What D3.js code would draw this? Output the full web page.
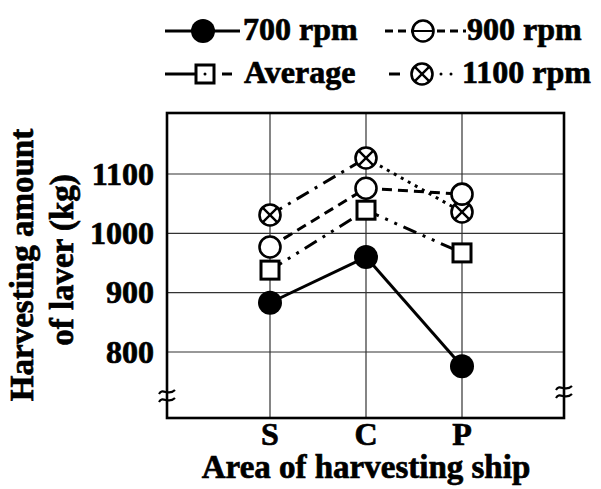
<!DOCTYPE html>
<html><head><meta charset="utf-8">
<script src="https://cdn.jsdelivr.net/npm/d3@7"></script>
<style>body{margin:0;background:#fff}svg{display:block}text{font-family:"Liberation Serif","Times New Roman",serif;font-weight:bold;fill:#000;stroke:#000;stroke-width:0.7px}</style>
</head><body><svg id="c" width="601" height="489"></svg>
<script>
const categories = ["S", "C", "P"];
const yTicks = [800, 900, 1000, 1100];
const rpm700 = [883, 960, 776];
const rpm900 = [977, 1076, 1066];
const average = [938, 1039, 967];
const rpm1100 = [1031, 1127, 1036];

const svg = d3.select("#c");
const x = d3.scaleLinear().domain([0, 2]).range([270, 462]);
const y = d3.scaleLinear().domain([800, 1100]).range([352, 174]);
const fx0 = 167, fx1 = 564, fy0 = 113, fy1 = 418;

// grid
const g = svg.append("g");
g.selectAll(".hg").data(yTicks).join("line")
  .attr("x1", fx0).attr("x2", fx1).attr("y1", d => y(d)).attr("y2", d => y(d))
  .attr("stroke", "#333").attr("stroke-width", 1.2);
g.selectAll(".vg").data(categories).join("line")
  .attr("x1", (d, i) => x(i)).attr("x2", (d, i) => x(i)).attr("y1", fy0).attr("y2", fy1)
  .attr("stroke", "#333").attr("stroke-width", 1.2);
// frame
g.append("rect").attr("x", fx0).attr("y", fy0).attr("width", fx1 - fx0).attr("height", fy1 - fy0)
  .attr("fill", "none").attr("stroke", "#000").attr("stroke-width", 2.6);

// break marks
function brk(cx, cy) {
  [-4, 4].forEach(o => {
    svg.append("path")
      .attr("d", `M${cx - 8},${cy + o + 2} C${cx - 4},${cy + o - 5} ${cx + 1},${cy + o + 5} ${cx + 8},${cy + o - 2}`)
      .attr("fill", "none").attr("stroke", "#000").attr("stroke-width", 2.2);
  });
}
brk(fx0, 396);
brk(fx1, 392);

// tick labels
svg.selectAll(".yt").data(yTicks).join("text")
  .attr("x", 154).attr("y", d => y(d)).attr("dy", "0.33em").attr("text-anchor", "end")
  .attr("font-size", 32).text(d => d);
svg.selectAll(".xt").data(categories).join("text")
  .attr("x", (d, i) => x(i)).attr("y", 445).attr("text-anchor", "middle")
  .attr("font-size", 32).text(d => d);

// axis titles
svg.append("text").attr("x", 366).attr("y", 478).attr("text-anchor", "middle")
  .attr("font-size", 33).text("Area of harvesting ship");
svg.append("text").attr("transform", "translate(33,265) rotate(-90)").attr("text-anchor", "middle")
  .attr("font-size", 33).text("Harvesting amount");
svg.append("text").attr("transform", "translate(73,260) rotate(-90)").attr("text-anchor", "middle")
  .attr("font-size", 33).text("of laver (kg)");

const line = d3.line().x(d => x(d.i)).y(d => y(d.v));
function seg(vals, i0, dash) {
  svg.append("path").datum([{i: i0, v: vals[i0]}, {i: i0 + 1, v: vals[i0 + 1]}])
    .attr("d", line).attr("fill", "none").attr("stroke", "#000").attr("stroke-width", 3)
    .attr("stroke-dasharray", dash);
}
// lines
[0, 1].forEach(i => seg(rpm700, i, null));
[0, 1].forEach(i => seg(rpm900, i, "10,6"));
[0, 1].forEach(i => seg(average, i, "14,7,3,7,3,7"));
seg(rpm1100, 0, "14,7,3,7");
seg(rpm1100, 1, "3,5");

// markers
function filled(sel, cx, cy) { sel.append("circle").attr("cx", cx).attr("cy", cy).attr("r", 12).attr("fill", "#000"); }
function open(sel, cx, cy, bar) {
  sel.append("circle").attr("cx", cx).attr("cy", cy).attr("r", 10.5).attr("fill", "#fff").attr("stroke", "#000").attr("stroke-width", 2.6);
  if (bar) sel.append("line").attr("x1", cx - 10).attr("x2", cx + 10).attr("y1", cy).attr("y2", cy).attr("stroke", "#000").attr("stroke-width", 2);
}
function square(sel, cx, cy, dot) {
  sel.append("rect").attr("x", cx - 9).attr("y", cy - 9).attr("width", 18).attr("height", 18).attr("fill", "#fff").attr("stroke", "#000").attr("stroke-width", 3);
  if (dot) sel.append("circle").attr("cx", cx).attr("cy", cy).attr("r", 1.5).attr("fill", "#000");
}
function cross(sel, cx, cy) {
  sel.append("circle").attr("cx", cx).attr("cy", cy).attr("r", 10.5).attr("fill", "#fff").attr("stroke", "#000").attr("stroke-width", 2.6);
  const k = 7.4;
  sel.append("path").attr("d", `M${cx - k},${cy - k}L${cx + k},${cy + k}M${cx + k},${cy - k}L${cx - k},${cy + k}`).attr("stroke", "#000").attr("stroke-width", 2.4);
}
const m = svg.append("g");
rpm1100.forEach((v, i) => cross(m, x(i), y(v)));
rpm900.forEach((v, i) => open(m, x(i), y(v), false));
average.forEach((v, i) => square(m, x(i), y(v), false));
rpm700.forEach((v, i) => filled(m, x(i), y(v)));

// legend
const L = svg.append("g");
function lline(x1, x2, yy, dash) {
  L.append("line").attr("x1", x1).attr("x2", x2).attr("y1", yy).attr("y2", yy).attr("stroke", "#000").attr("stroke-width", 3).attr("stroke-dasharray", dash);
}
lline(165, 240, 31, null); filled(L, 203, 31);
L.append("text").attr("x", 243).attr("y", 40).attr("font-size", 32).text("700 rpm");
lline(385, 466, 31, "8,5"); open(L, 423, 31, true);
L.append("text").attr("x", 467).attr("y", 40).attr("font-size", 32).text("900 rpm");
lline(165, 196, 74, null); lline(222, 232, 74, null); square(L, 205, 74, true);
L.append("text").attr("x", 244).attr("y", 83).attr("font-size", 32).text("Average");
lline(389, 400, 74, null); cross(L, 422, 74);
L.append("circle").attr("cx", 441).attr("cy", 74).attr("r", 1.5).attr("fill", "#000");
L.append("circle").attr("cx", 451).attr("cy", 74).attr("r", 1.5).attr("fill", "#000");
L.append("text").attr("x", 462).attr("y", 83).attr("font-size", 32).text("1100 rpm");
</script></body></html>
